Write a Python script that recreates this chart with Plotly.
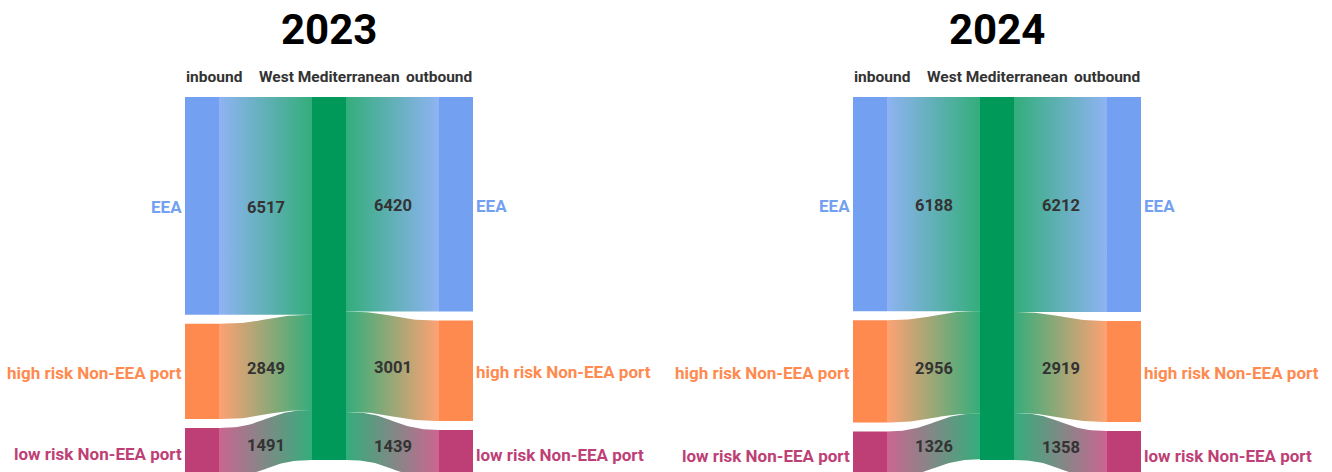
import plotly.graph_objects as go

# ---------------- data ----------------
years = ["2023", "2024"]
categories = ["EEA", "high risk Non-EEA port", "low risk Non-EEA port"]
hub_name = "West Mediterranean"
column_headers = ["inbound", "West Mediterranean", "outbound"]
inbound_2023 = [6517, 2849, 1491]
outbound_2023 = [6420, 3001, 1439]
inbound_2024 = [6188, 2956, 1326]
outbound_2024 = [6212, 2919, 1358]

# ---------------- style ----------------
cat_colors = ["#73A0F0", "#FF8A50", "#BE3F75"]
hub_color = "#00995A"
FONT = "Roboto"
W, H = 1332, 472
panel_offsets = [0, 668]
LEFT, RIGHT = 185, 473
NODE_W = 34
TOP, SK_H = 97, 381
GAP = 9
LINK_ALPHA = 0.8
TXT_DY = 1.5  # baseline nudge for text centred on marks


def rgba(hex_color, a):
    h = hex_color.lstrip("#")
    r, g, b = int(h[0:2], 16), int(h[2:4], 16), int(h[4:6], 16)
    return f"rgba({r},{g},{b},{a})"


def bezier_band(x0, y0a, y0b, x1, y1a, y1b, n=40):
    cx = (x0 + x1) / 2
    top_x, top_y, bot_x, bot_y = [], [], [], []
    for i in range(n + 1):
        t = i / n
        b0 = (1 - t) ** 3
        b1 = 3 * (1 - t) ** 2 * t
        b2 = 3 * (1 - t) * t ** 2
        b3 = t ** 3
        x = b0 * x0 + b1 * cx + b2 * cx + b3 * x1
        top_x.append(x)
        top_y.append((b0 + b1) * y0a + (b2 + b3) * y1a)
        bot_x.append(x)
        bot_y.append((b0 + b1) * y0b + (b2 + b3) * y1b)
    xs = top_x + bot_x[::-1] + [top_x[0]]
    ys = top_y + bot_y[::-1] + [top_y[0]]
    return xs, ys


fig = go.Figure()
shapes = []
annotations = []

panels = [(inbound_2023, outbound_2023), (inbound_2024, outbound_2024)]

for year, (inflow, outflow), off in zip(years, panels, panel_offsets):
    step = (RIGHT - LEFT - NODE_W) / 2
    col_x = [off + LEFT + i * step for i in range(3)]
    hub_val = max(sum(inflow), sum(outflow))
    n = len(categories)
    k = min((SK_H - (n - 1) * GAP) / sum(inflow),
            SK_H / hub_val,
            (SK_H - (n - 1) * GAP) / sum(outflow))

    def stack(vals):
        pos, y = [], TOP
        for v in vals:
            pos.append((y, y + v * k))
            y += v * k + GAP
        return pos

    in_nodes = stack(inflow)
    out_nodes = stack(outflow)
    hub_node = (TOP, TOP + hub_val * k)

    # links inbound -> hub
    hy = TOP
    for i, v in enumerate(inflow):
        sy0, sy1 = in_nodes[i][0], in_nodes[i][0] + v * k
        ty0, ty1 = hy, hy + v * k
        hy = ty1
        sx, tx = col_x[0] + NODE_W, col_x[1]
        xs, ys = bezier_band(sx, sy0, sy1, tx, ty0, ty1)
        fig.add_trace(go.Scatter(
            x=xs, y=ys, mode="lines", line=dict(width=0), fill="toself",
            fillgradient=dict(type="horizontal", colorscale=[
                [0, rgba(cat_colors[i], LINK_ALPHA)], [1, rgba(hub_color, LINK_ALPHA)]]),
            hoverinfo="skip", showlegend=False))
        annotations.append(dict(
            x=(sx + tx) / 2, y=((sy0 + sy1) / 2 + (ty0 + ty1) / 2) / 2 + TXT_DY,
            text=f"<b>{v}</b>", showarrow=False, xanchor="center", yanchor="middle",
            font=dict(family=FONT, size=16.5, color="#333333")))

    # links hub -> outbound
    hy = TOP
    for i, v in enumerate(outflow):
        sy0, sy1 = hy, hy + v * k
        hy = sy1
        ty0, ty1 = out_nodes[i][0], out_nodes[i][0] + v * k
        sx, tx = col_x[1] + NODE_W, col_x[2]
        xs, ys = bezier_band(sx, sy0, sy1, tx, ty0, ty1)
        fig.add_trace(go.Scatter(
            x=xs, y=ys, mode="lines", line=dict(width=0), fill="toself",
            fillgradient=dict(type="horizontal", colorscale=[
                [0, rgba(hub_color, LINK_ALPHA)], [1, rgba(cat_colors[i], LINK_ALPHA)]]),
            hoverinfo="skip", showlegend=False))
        annotations.append(dict(
            x=(sx + tx) / 2, y=((sy0 + sy1) / 2 + (ty0 + ty1) / 2) / 2 + TXT_DY,
            text=f"<b>{v}</b>", showarrow=False, xanchor="center", yanchor="middle",
            font=dict(family=FONT, size=16.5, color="#333333")))

    # nodes
    lbl_size = 17
    for i, (y0, y1) in enumerate(in_nodes):
        shapes.append(dict(type="rect", xref="x", yref="y", x0=col_x[0], x1=col_x[0] + NODE_W,
                           y0=y0, y1=y1, fillcolor=cat_colors[i], line=dict(width=0), layer="above"))
        annotations.append(dict(x=col_x[0] - 1, y=(y0 + y1) / 2 + TXT_DY, text=f"<b>{categories[i]}</b>",
                                showarrow=False, xanchor="right", yanchor="middle",
                                font=dict(family=FONT, size=lbl_size, color=cat_colors[i])))
    for i, (y0, y1) in enumerate(out_nodes):
        shapes.append(dict(type="rect", xref="x", yref="y", x0=col_x[2], x1=col_x[2] + NODE_W,
                           y0=y0, y1=y1, fillcolor=cat_colors[i], line=dict(width=0), layer="above"))
        annotations.append(dict(x=col_x[2] + NODE_W + 1, y=(y0 + y1) / 2 + TXT_DY,
                                text=f"<b>{categories[i]}</b>",
                                showarrow=False, xanchor="left", yanchor="middle",
                                font=dict(family=FONT, size=lbl_size, color=cat_colors[i])))
    shapes.append(dict(type="rect", xref="x", yref="y", x0=col_x[1], x1=col_x[1] + NODE_W,
                       y0=hub_node[0], y1=hub_node[1], fillcolor=hub_color, line=dict(width=0),
                       layer="above"))

    # column headers
    hdr_font = dict(family=FONT, size=15.5, color="#333333")
    annotations.append(dict(x=col_x[0] - 1, y=77, text=f"<b>{column_headers[0]}</b>", showarrow=False,
                            xanchor="left", yanchor="middle", font=hdr_font))
    annotations.append(dict(x=col_x[1] + NODE_W / 2, y=77, text=f"<b>{column_headers[1]}</b>",
                            showarrow=False, xanchor="center", yanchor="middle", font=hdr_font))
    annotations.append(dict(x=col_x[2] + NODE_W + 1, y=77, text=f"<b>{column_headers[2]}</b>",
                            showarrow=False, xanchor="right", yanchor="middle", font=hdr_font))

    # title
    annotations.append(dict(x=off + (LEFT + RIGHT) / 2, y=29, text=f"<b>{year}</b>", showarrow=False,
                            xanchor="center", yanchor="middle",
                            font=dict(family=FONT, size=42, color="#000000")))

fig.update_layout(
    width=W, height=H, margin=dict(l=0, r=0, t=0, b=0),
    paper_bgcolor="white", plot_bgcolor="white",
    xaxis=dict(range=[0, W], visible=False, fixedrange=True),
    yaxis=dict(range=[H, 0], visible=False, fixedrange=True),
    shapes=shapes, annotations=annotations, showlegend=False,
)

fig.write_html("out.html")
